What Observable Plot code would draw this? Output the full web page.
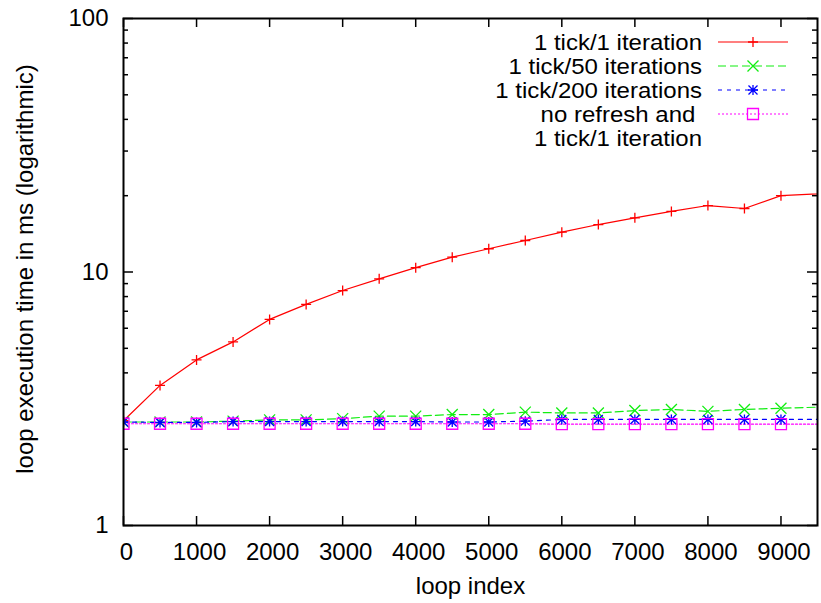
<!DOCTYPE html>
<html>
<head>
<meta charset="utf-8">
<script src="https://cdn.jsdelivr.net/npm/d3@7"></script>
<script src="https://cdn.jsdelivr.net/npm/@observablehq/plot@0.6"></script>
<style>
  html, body { margin: 0; padding: 0; background: #fff; }
  #chart svg { display: block; }
</style>
</head>
<body>
<div id="chart"></div>
<script>
// ---- data ----
const loopIndex = [0, 500, 1000, 1500, 2000, 2500, 3000, 3500, 4000, 4500, 5000, 5500, 6000, 6500, 7000, 7500, 8000, 8500, 9000, 10000];
const tick1      = [2.59, 3.57, 4.5, 5.3, 6.5, 7.45, 8.45, 9.4, 10.4, 11.44, 12.35, 13.31, 14.36, 15.39, 16.36, 17.33, 18.29, 17.8, 20.0, 20.7];
const tick50     = [2.56, 2.56, 2.56, 2.58, 2.61, 2.61, 2.64, 2.70, 2.70, 2.74, 2.74, 2.80, 2.78, 2.78, 2.84, 2.87, 2.82, 2.87, 2.90, 2.96];
const tick200    = [2.56, 2.55, 2.55, 2.57, 2.57, 2.57, 2.57, 2.57, 2.57, 2.56, 2.56, 2.58, 2.62, 2.62, 2.62, 2.62, 2.62, 2.62, 2.62, 2.62];
const noRefresh  = [2.52, 2.52, 2.52, 2.52, 2.52, 2.52, 2.52, 2.52, 2.52, 2.52, 2.52, 2.52, 2.51, 2.51, 2.51, 2.51, 2.51, 2.51, 2.51, 2.51];
const seriesNames = ["1 tick/1 iteration", "1 tick/50 iterations", "1 tick/200 iterations", "no refresh and \n1 tick/1 iteration"];
const xTicks = [0, 1000, 2000, 3000, 4000, 5000, 6000, 7000, 8000, 9000];
const yMajor = [1, 10, 100];
const yMinor = [2, 3, 4, 5, 6, 7, 8, 9, 20, 30, 40, 50, 60, 70, 80, 90];
const xLabel = "loop index";
const yLabel = "loop execution time in ms (logarithmic)";

// ---- styling ----
const FONT = "'Liberation Sans', Arial, Helvetica, sans-serif";
const W = 821, H = 603;
const M = {top: 18, right: 4, bottom: 78, left: 123};
const innerW = W - M.left - M.right;
const innerH = H - M.top - M.bottom;

const symPlus = {draw(c, s) { const r = Math.sqrt(s / Math.PI); c.moveTo(-r, 0); c.lineTo(r, 0); c.moveTo(0, -r); c.lineTo(0, r); }};
const symTimes = {draw(c, s) { const r = Math.sqrt(s / Math.PI); c.moveTo(-r, -r); c.lineTo(r, r); c.moveTo(-r, r); c.lineTo(r, -r); }};
const symStar = {draw(c, s) { const r = Math.sqrt(s / Math.PI); c.moveTo(-r, 0); c.lineTo(r, 0); c.moveTo(0, -r); c.lineTo(0, r);
  const q = r * 0.9; c.moveTo(-q, -q); c.lineTo(q, q); c.moveTo(-q, q); c.lineTo(q, -q); }};
const symSquare = {draw(c, s) { const r = Math.sqrt(s / Math.PI); c.moveTo(-r, -r); c.lineTo(r, -r); c.lineTo(r, r); c.lineTo(-r, r); c.closePath(); }};

const seriesValues = [tick1, tick50, tick200, noRefresh];
const styles = [
  {color: "#ff0000", dash: null, sym: symPlus, r: 5},
  {color: "#11ee11", dash: "8,4", sym: symTimes, r: 5.5},
  {color: "#0000ff", dash: "4,5", sym: symStar, r: 5},
  {color: "#ff00ff", dash: "2,2", sym: symSquare, r: 5.5}
];

const series = seriesValues.map((vals, k) => loopIndex.map((x, i) => ({x, y: vals[i], k})));

const lineMarks = series.map((d, k) => Plot.line(d, {
  x: "x", y: "y", stroke: styles[k].color, strokeWidth: 1.2,
  strokeDasharray: styles[k].dash, clip: true
}));
const dotMarks = series.map((d, k) => Plot.dot(d, {
  x: "x", y: "y", symbol: styles[k].sym, r: styles[k].r, fill: "none",
  stroke: styles[k].color, strokeWidth: 1.3, clip: true
}));

const measureCtx = document.createElement("canvas").getContext("2d");
measureCtx.font = "24px 'Liberation Sans', Arial, sans-serif";

function legend(index, scales, values, dims) {
  const right = dims.width - dims.marginRight;
  const top = dims.marginTop;
  const g = d3.create("svg:g").attr("font-family", FONT).attr("font-size", 21.5);
  let row = 0;
  seriesNames.forEach((name, k) => {
    const y = top + 24 + 24 * row;
    const st = styles[k];
    const lines = name.split("\n");
    lines.forEach((ln, j) => {
      g.append("text")
        .attr("x", right - 115).attr("y", y + 24 * j)
        .attr("dy", "0.35em").attr("text-anchor", "end")
        .attr("textLength", measureCtx.measureText(ln).width)
        .attr("lengthAdjust", "spacingAndGlyphs")
        .style("white-space", "pre").attr("fill", "black")
        .text(ln);
    });
    g.append("line")
      .attr("x1", right - 99).attr("x2", right - 29)
      .attr("y1", y).attr("y2", y)
      .attr("stroke", st.color).attr("stroke-width", 1.2)
      .attr("stroke-dasharray", st.dash);
    const p = d3.path();
    st.sym.draw(p, Math.PI * st.r * st.r);
    g.append("path").attr("d", p.toString())
      .attr("transform", `translate(${right - 64},${y})`)
      .attr("fill", "none").attr("stroke", st.color).attr("stroke-width", 1.3);
    row += lines.length;
  });
  return g.node();
}

const chart = Plot.plot({
  width: W, height: H,
  marginTop: M.top, marginRight: M.right, marginBottom: M.bottom, marginLeft: M.left,
  style: {fontFamily: FONT, fontSize: "24px", background: "white", color: "black", overflow: "visible"},
  x: {domain: [0, 9500]},
  y: {type: "log", domain: [1, 100]},
  marks: [
    ...lineMarks,
    ...dotMarks,
    // inward major/minor ticks on all four sides
    Plot.ruleX(xTicks, {x: d => d, insetTop: innerH - 9, stroke: "black", strokeWidth: 1.5}),
    Plot.ruleX(xTicks, {x: d => d, insetBottom: innerH - 9, stroke: "black", strokeWidth: 1.5}),
    Plot.ruleY(yMajor, {y: d => d, insetRight: innerW - 10, stroke: "black", strokeWidth: 1.5}),
    Plot.ruleY(yMajor, {y: d => d, insetLeft: innerW - 10, stroke: "black", strokeWidth: 1.5}),
    Plot.ruleY(yMinor, {y: d => d, insetRight: innerW - 5, stroke: "black", strokeWidth: 1.5}),
    Plot.ruleY(yMinor, {y: d => d, insetLeft: innerW - 5, stroke: "black", strokeWidth: 1.5}),
    Plot.frame({stroke: "black", strokeWidth: 2}),
    Plot.axisX({ticks: xTicks, tickSize: 0, tickPadding: 17, label: null, fontSize: 24, dx: 3, tickFormat: d => String(d)}),
    Plot.axisY({ticks: yMajor, tickSize: 0, tickPadding: 15, label: null, fontSize: 24, tickFormat: d => String(d)}),
    Plot.text([xLabel], {text: d => d, frameAnchor: "bottom", lineAnchor: "middle", textAnchor: "middle", dy: 61, fontSize: 24}),
    Plot.text([yLabel], {text: d => d, frameAnchor: "left", lineAnchor: "middle", textAnchor: "middle", rotate: -90, dx: -98, dy: -3, fontSize: 24}),
    legend
  ]
});
document.getElementById("chart").appendChild(chart);
</script>
</body>
</html>
